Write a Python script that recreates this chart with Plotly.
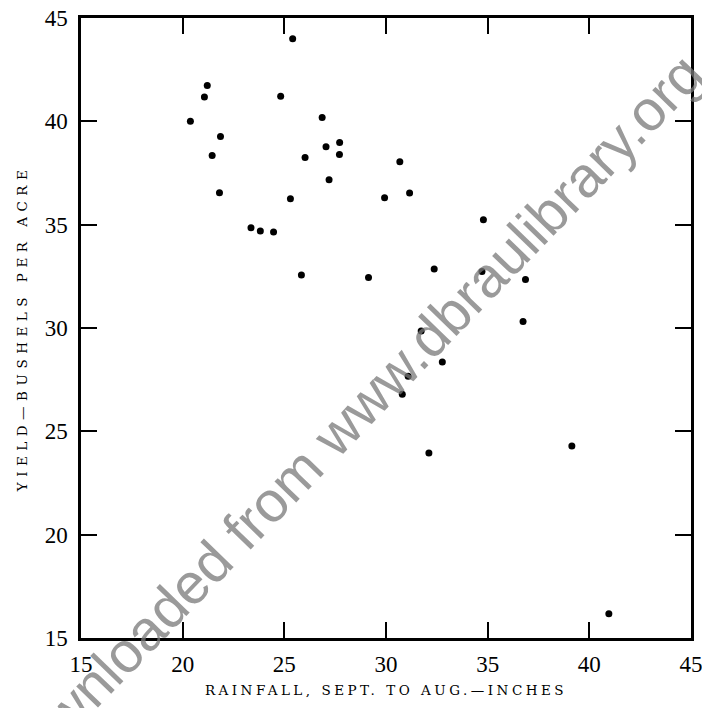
import plotly.graph_objects as go

rainfall = [25.41, 21.21, 21.07, 20.38, 21.86, 21.45, 21.81, 23.36, 23.82, 24.47,
            24.82, 25.30, 25.84, 26.86, 27.05, 27.72, 27.71, 26.02, 27.20, 29.14,
            29.93, 30.68, 31.16, 34.79, 32.37, 34.72, 36.86, 36.74, 31.73, 32.77,
            31.09, 30.80, 32.11, 39.14, 40.96]
yield_bu = [44.0, 41.73, 41.18, 40.0, 39.27, 38.35, 36.54, 34.85, 34.69, 34.64,
            41.21, 36.25, 32.56, 40.19, 38.77, 38.97, 38.39, 38.25, 37.17, 32.44,
            36.30, 38.05, 36.53, 35.24, 32.86, 32.73, 32.35, 30.31, 29.86, 28.35,
            27.67, 26.80, 23.95, 24.29, 16.17]

x_ticks = [15, 20, 25, 30, 35, 40, 45]
y_ticks = [15, 20, 25, 30, 35, 40, 45]

fig = go.Figure()
fig.add_trace(go.Scatter(
    x=rainfall, y=yield_bu, mode="markers",
    marker=dict(color="black", size=7),
    showlegend=False,
))

tickfont = dict(family="Liberation Serif", size=23, color="black")
titlefont = dict(family="DejaVu Serif", size=13.5, color="black")

fig.update_xaxes(
    range=[15, 45], tickvals=x_ticks, ticktext=[str(v) for v in x_ticks],
    ticks="inside", ticklen=16, tickwidth=2, tickcolor="black",
    showline=True, linecolor="black", linewidth=2.5, mirror="ticks",
    showgrid=False, zeroline=False, tickfont=tickfont, automargin=False,
    ticklabelstandoff=4, ticklabeloverflow="allow",
    title=dict(text="RAINFALL, SEPT. TO AUG.—INCHES", font=titlefont, standoff=10),
)
fig.update_yaxes(
    range=[15, 45], tickvals=y_ticks, ticktext=[str(v) for v in y_ticks],
    ticks="inside", ticklen=16, tickwidth=2, tickcolor="black",
    showline=True, linecolor="black", linewidth=2.5, mirror="ticks",
    showgrid=False, zeroline=False, tickfont=tickfont, automargin=False,
    ticklabelstandoff=6, ticklabeloverflow="allow",
    title=dict(text="YIELD—BUSHELS PER ACRE", font=titlefont, standoff=14),
)

fig.add_annotation(
    text="Downloaded from www.dbraulibrary.org",
    xref="paper", yref="paper", x=0.436, y=0.35,
    showarrow=False, textangle=-46,
    font=dict(family="Liberation Sans", size=57, color="rgba(120,120,120,0.75)"),
)

fig.update_layout(
    width=702, height=708,
    margin=dict(l=81, r=11, t=18, b=70),
    paper_bgcolor="white", plot_bgcolor="white",
)

post = """
document.body.style.margin='0';
document.querySelectorAll('.xtitle').forEach(function(e){e.style.letterSpacing='3.5px';});
document.querySelectorAll('.ytitle').forEach(function(e){e.style.letterSpacing='5.5px';});
"""

fig.write_html("out.html", post_script=post, config={"displayModeBar": False})
